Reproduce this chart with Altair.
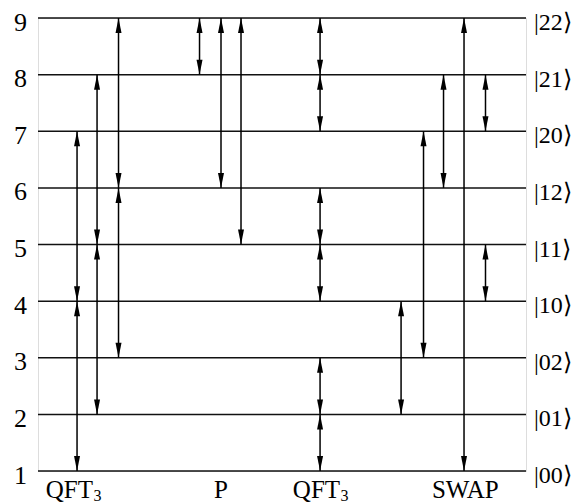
import altair as alt
import pandas as pd

# Energy levels (horizontal lines) and their labels
levels = [1, 2, 3, 4, 5, 6, 7, 8, 9]
left_labels = ["1", "2", "3", "4", "5", "6", "7", "8", "9"]
right_labels = ["|00⟩", "|01⟩", "|02⟩", "|10⟩", "|11⟩", "|12⟩", "|20⟩", "|21⟩", "|22⟩"]

# Double-headed vertical arrows: horizontal position (0-100 along the lines), lower and upper level
arrow_x = [8.0, 8.0, 12.1, 12.1, 16.5, 16.5,
           33.1, 37.5, 41.6,
           57.8, 57.8, 57.8, 57.8, 57.8, 57.8,
           74.4, 79.0, 83.1, 87.3, 91.7, 91.7]
arrow_lo = [1, 4, 2, 5, 3, 6,
            8, 6, 5,
            1, 2, 4, 5, 7, 8,
            2, 3, 6, 1, 4, 7]
arrow_hi = [4, 7, 5, 8, 6, 9,
            9, 9, 9,
            2, 3, 5, 6, 8, 9,
            4, 7, 8, 9, 5, 8]

# Gate labels under the diagram
qft_labels = ["QFT", "QFT"]
qft_x = [11.28, 61.9]
sub_labels = ["3", "3"]
other_labels = ["P", "SWAP"]
other_x = [37.5, 87.55]

FONT = "Liberation Serif"
FS = 26

lines_df = pd.DataFrame({"level": levels, "x0": [0] * 9, "x1": [100] * 9,
                         "left": left_labels, "right": right_labels})
arrows_df = pd.DataFrame({"x": arrow_x, "lo": arrow_lo, "hi": arrow_hi})
qft_df = pd.DataFrame({"x": qft_x, "label": qft_labels, "sub": sub_labels, "y": [1, 1]})
other_df = pd.DataFrame({"x": other_x, "label": other_labels, "y": [1, 1]})

xs = alt.Scale(domain=[0, 100], nice=False, zero=False)
ys = alt.Scale(domain=[1, 9], nice=False, zero=False)

hlines = alt.Chart(lines_df).mark_rule(color="#111", strokeWidth=1.5).encode(
    x=alt.X("x0:Q", scale=xs, axis=None), x2="x1:Q",
    y=alt.Y("level:Q", scale=ys, axis=None))

left_txt = alt.Chart(lines_df).mark_text(
    align="right", baseline="alphabetic", dx=-11, dy=12.5,
    font=FONT, fontSize=FS, color="black").encode(
    x=alt.X("x0:Q", scale=xs, axis=None), y=alt.Y("level:Q", scale=ys, axis=None),
    text="left:N")

right_txt = alt.Chart(lines_df).mark_text(
    align="left", baseline="alphabetic", dx=8, dy=12,
    font=FONT, fontSize=24, color="black").encode(
    x=alt.X("x1:Q", scale=xs, axis=None), y=alt.Y("level:Q", scale=ys, axis=None),
    text="right:N")

shafts = alt.Chart(arrows_df).mark_rule(color="black", strokeWidth=1.5).encode(
    x=alt.X("x:Q", scale=xs, axis=None),
    y=alt.Y("lo:Q", scale=ys, axis=None), y2="hi:Q")

up_heads = alt.Chart(arrows_df).mark_point(
    shape="M0,0L0.4,2L-0.4,2Z", size=225, filled=True, color="black",
    opacity=1, strokeWidth=0).encode(
    x=alt.X("x:Q", scale=xs, axis=None), y=alt.Y("hi:Q", scale=ys, axis=None))

down_heads = alt.Chart(arrows_df).mark_point(
    shape="M0,0L0.4,-2L-0.4,-2Z", size=225, filled=True, color="black",
    opacity=1, strokeWidth=0).encode(
    x=alt.X("x:Q", scale=xs, axis=None), y=alt.Y("lo:Q", scale=ys, axis=None))

qft_txt = alt.Chart(qft_df).mark_text(
    align="right", baseline="alphabetic", dy=27,
    font=FONT, fontSize=25, color="black").encode(
    x=alt.X("x:Q", scale=xs, axis=None), y=alt.Y("y:Q", scale=ys, axis=None),
    text="label:N")

sub_txt = alt.Chart(qft_df).mark_text(
    align="left", baseline="alphabetic", dy=29.5, dx=0.5,
    font=FONT, fontSize=16, color="black").encode(
    x=alt.X("x:Q", scale=xs, axis=None), y=alt.Y("y:Q", scale=ys, axis=None),
    text="sub:N")

other_txt = alt.Chart(other_df).mark_text(
    align="center", baseline="alphabetic", dy=27,
    font=FONT, fontSize=25, color="black").encode(
    x=alt.X("x:Q", scale=xs, axis=None), y=alt.Y("y:Q", scale=ys, axis=None),
    text="label:N")

chart = alt.layer(hlines, shafts, up_heads, down_heads, left_txt, right_txt,
                  qft_txt, sub_txt, other_txt).properties(
    width=488, height=453,
    autosize=alt.AutoSizeParams(type="none"),
    padding={"left": 30, "top": 10, "right": 46, "bottom": 33},
).configure_view(stroke=None).configure(background="white")

chart.save("out.html", embed_options={"renderer": "svg", "actions": False})
